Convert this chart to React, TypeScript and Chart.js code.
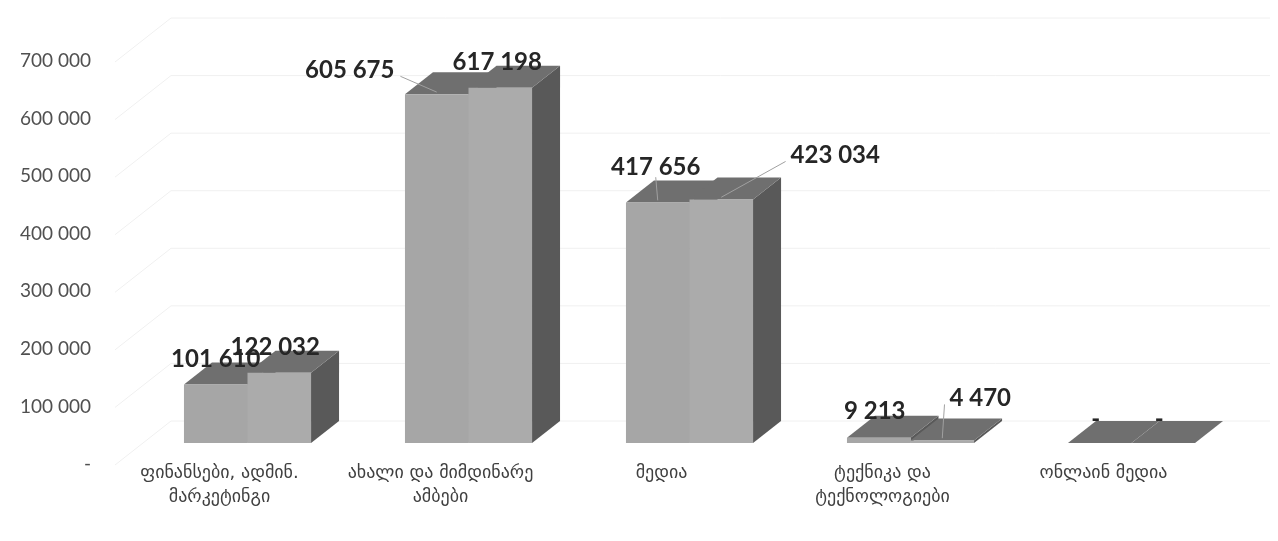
import React, { useEffect, useRef } from 'react';
import { Chart, registerables } from 'chart.js';

Chart.register(...registerables);

// ---------- data ----------
const categories: (string | string[])[] = [
  ['ფინანსები, ადმინ.', 'მარკეტინგი'],
  ['ახალი და მიმდინარე', 'ამბები'],
  'მედია',
  ['ტექნიკა და', 'ტექნოლოგიები'],
  'ონლაინ მედია',
];
const seriesA = [101610, 605675, 417656, 9213, 0];
const seriesB = [122032, 617198, 423034, 4470, 0];
const yMin = 0;
const yMax = 700000;
const yStep = 100000;

// label nudges (Excel moved some labels manually) and leader line flags
const labelShiftA: [number, number][] = [[0, 0], [-87, 1], [-2, -10], [-4, -1], [-4, 1]];
const labelShiftB: [number, number][] = [[-4, 0], [-3, 0], [114, -19], [38, -17], [-4, 1]];
const leaderA = [false, true, true, false, false];
const leaderB = [false, false, true, true, false];

// ---------- style ----------
const DX = 28;
const DY = -22;
const FRONT_A = '#a6a6a6';
const FRONT_B = '#ababab';
const TOP = '#6f6f6f';
const SIDE = '#595959';
const GRID = '#f0f0f0';

const fmt = (v: number) =>
  v === 0 ? '-' : String(Math.round(v)).replace(/\B(?=(\d{3})+(?!\d))/g, ' ');

const threeD = {
  id: 'threeD',
  beforeDatasetsDraw(chart: any) {
    const { ctx, chartArea, scales } = chart;
    const y = scales.y;
    const wallFrontX = chartArea.left - 2 * DX + 34;
    const wallBackX = wallFrontX + 2 * DX;
    const rightX = chartArea.right + DX;
    ctx.save();
    ctx.strokeStyle = GRID;
    ctx.lineWidth = 1;
    for (let v = yMin; v <= yMax; v += yStep) {
      const py = y.getPixelForValue(v);
      ctx.beginPath();
      ctx.moveTo(wallFrontX, py - DY);
      ctx.lineTo(wallBackX, py + DY);
      ctx.lineTo(rightX, py + DY);
      ctx.stroke();
    }
    // top & side faces, series A before series B
    [0, 1].forEach((di) => {
      const meta = chart.getDatasetMeta(di);
      meta.data.forEach((bar: any) => {
        const { x, y: top, base, width } = bar.getProps(['x', 'y', 'base', 'width'], true);
        const l = x - width / 2;
        const r = x + width / 2;
        ctx.fillStyle = SIDE;
        ctx.beginPath();
        ctx.moveTo(r, top);
        ctx.lineTo(r + DX, top + DY);
        ctx.lineTo(r + DX, base + DY);
        ctx.lineTo(r, base);
        ctx.closePath();
        ctx.fill();
        ctx.fillStyle = TOP;
        ctx.beginPath();
        ctx.moveTo(l, top);
        ctx.lineTo(l + DX, top + DY);
        ctx.lineTo(r + DX, top + DY);
        ctx.lineTo(r, top);
        ctx.closePath();
        ctx.fill();
      });
    });
    ctx.restore();
  },
  afterDatasetsDraw(chart: any) {
    const { ctx } = chart;
    const size = 24;
    ctx.save();
    ctx.font = `bold ${size}px Lato, "Open Sans", sans-serif`;
    ctx.textAlign = 'center';
    ctx.textBaseline = 'alphabetic';
    const shifts = [labelShiftA, labelShiftB];
    const leaders = [leaderA, leaderB];
    [0, 1].forEach((di) => {
      const meta = chart.getDatasetMeta(di);
      const values = chart.data.datasets[di].data as number[];
      meta.data.forEach((bar: any, i: number) => {
        const { x, y } = bar.getProps(['x', 'y'], true);
        const txt = fmt(values[i]);
        const cx = x + shifts[di][i][0];
        const cy = y - 26 + shifts[di][i][1];
        const w = ctx.measureText(txt).width;
        const capH = 0.72 * size;
        if (leaders[di][i]) {
          const ex = x;
          const ey = y + DY * 0.1;
          let sx = cx;
          let sy = cy + capH / 2 + 2;
          if (ex > cx + w / 2) {
            sx = cx + w / 2 + 6;
            sy = cy + 7;
          } else if (ex < cx - w / 2) {
            sx = cx - w / 2 - 5;
            sy = cy + 7;
          }
          ctx.strokeStyle = '#a0a0a0';
          ctx.lineWidth = 1;
          ctx.beginPath();
          ctx.moveTo(sx, sy);
          ctx.lineTo(ex, ey);
          ctx.stroke();
        }
        ctx.fillStyle = '#262626';
        ctx.fillText(txt, cx, cy + capH / 2);
      });
    });
    ctx.restore();
  },
};

export default function App() {
  const ref = useRef<HTMLCanvasElement | null>(null);
  useEffect(() => {
    if (!ref.current) return;
    const chart = new Chart(ref.current, {
      type: 'bar',
      data: {
        labels: categories,
        datasets: [
          { label: 'A', data: seriesA, backgroundColor: FRONT_A, borderWidth: 0 },
          { label: 'B', data: seriesB, backgroundColor: FRONT_B, borderWidth: 0 },
        ],
      },
      options: {
        animation: false,
        responsive: false,
        devicePixelRatio: 1,
        layout: { padding: { top: 40, right: 36, left: 0, bottom: 0 } },
        datasets: { bar: { categoryPercentage: 0.575, barPercentage: 1 } },
        plugins: { legend: { display: false }, tooltip: { enabled: false } },
        scales: {
          x: {
            type: 'category',
            grid: { display: false, drawTicks: false },
            border: { display: false },
            ticks: {
              autoSkip: false,
              maxRotation: 0,
              minRotation: 0,
              padding: 18,
              labelOffset: -28,
              color: '#404040',
              font: { family: '"DejaVu Sans", sans-serif', size: 18, lineHeight: 1.33 },
            },
            afterFit: (s: any) => {
              s.height = 98;
            },
          },
          y: {
            min: yMin,
            max: yMax,
            grid: { display: false, drawTicks: false },
            border: { display: false },
            ticks: {
              stepSize: yStep,
              padding: 46,
              labelOffset: 21,
              color: '#505050',
              font: { family: 'Lato, "Open Sans", sans-serif', size: 19 },
              callback: (v: any) => fmt(Number(v)),
            },
            afterFit: (s: any) => {
              s.width = 137;
              s.paddingTop = 0;
              s.paddingBottom = 0;
            },
          },
        },
      },
      plugins: [threeD],
    });
    return () => chart.destroy();
  }, []);
  return (
    <div style={{ position: 'fixed', left: 0, top: 0, width: 1278, height: 541, background: '#fff' }}>
      <canvas ref={ref} width={1278} height={541} style={{ display: 'block' }} />
    </div>
  );
}
